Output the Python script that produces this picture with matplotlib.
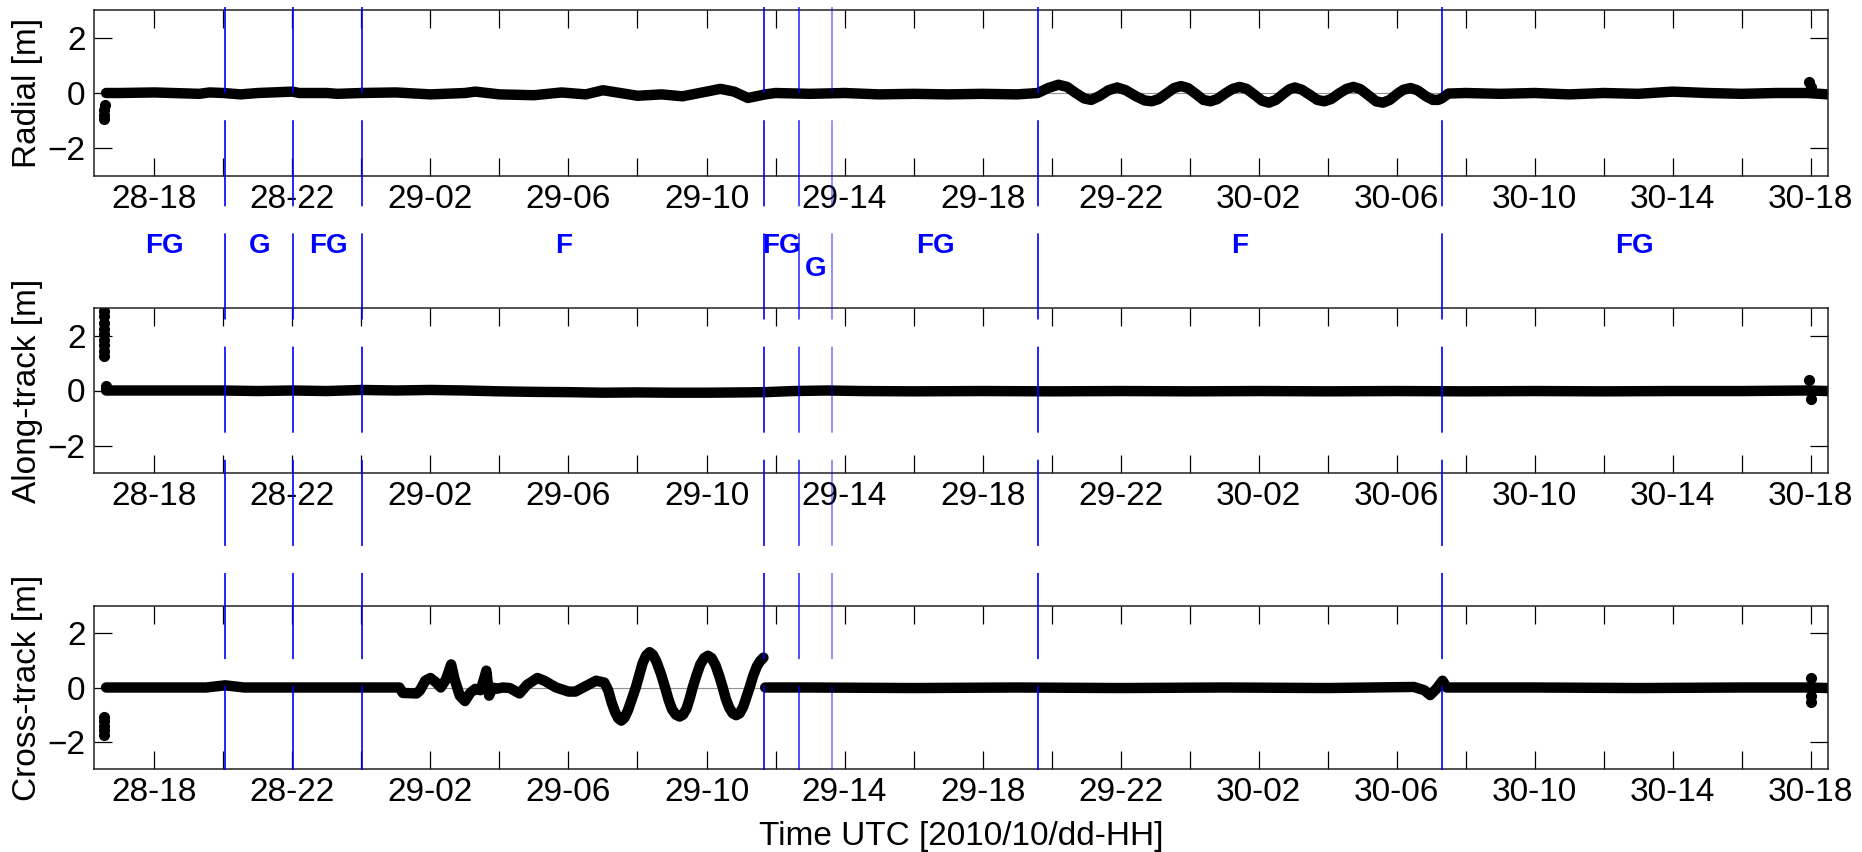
import numpy as np
import matplotlib
matplotlib.use("Agg")
import matplotlib.pyplot as plt
from matplotlib.lines import Line2D
from matplotlib.transforms import blended_transform_factory

plt.rcParams['font.family'] = ['Liberation Sans', 'DejaVu Sans']
plt.rcParams['lines.scale_dashes'] = False

# ---------------- data (hours since 2010-10-28 00:00 UTC) ----------------
radial_t = [16.6, 17.0, 18.0, 19.3, 19.6, 20.0, 20.5, 21.0, 22.0, 22.2, 23.0, 23.3, 24.0,
            25.0, 26.0, 27.0, 27.3, 28.0, 29.0, 29.8, 30.5, 31.0, 31.5, 32.0, 32.7, 33.3,
            34.0, 34.4, 34.8, 35.2, 35.7, 36.0, 37.0, 38.0, 39.0, 40.0, 41.0, 42.0, 43.0,
            43.6, 43.9, 44.2, 44.45, 44.7, 44.95, 45.15, 45.4, 45.65, 45.9, 46.15, 46.45,
            46.7, 46.9, 47.1, 47.35, 47.55, 47.75, 47.95, 48.2, 48.4, 48.6, 48.8, 49.05,
            49.25, 49.45, 49.65, 49.9, 50.1, 50.3, 50.5, 50.75, 50.9, 51.05, 51.25, 51.5,
            51.7, 51.9, 52.1, 52.35, 52.55, 52.75, 52.95, 53.2, 53.4, 53.6, 53.8, 54.05,
            54.2, 54.4, 54.6, 54.85, 55.05, 55.2, 55.3, 55.5, 56.0, 57.0, 58.0, 59.0, 60.0,
            61.0, 62.0, 63.0, 64.0, 65.0, 65.9, 66.5]
radial_v = [0.0, 0.0, 0.02, -0.03, 0.02, 0.0, -0.05, 0.0, 0.05, 0.0, 0.0, -0.03, 0.0,
            0.02, -0.05, 0.0, 0.05, -0.05, -0.08, 0.02, -0.05, 0.1, 0.0, -0.1, -0.05, -0.12,
            0.05, 0.15, 0.05, -0.18, -0.05, 0.0, -0.03, 0.0, -0.05, -0.03, -0.05, -0.03, -0.05,
            0.0, 0.18, 0.3, 0.22, 0.0, -0.2, -0.25, -0.1, 0.1, 0.2, 0.1, -0.12,
            -0.27, -0.3, -0.22, 0.0, 0.18, 0.25, 0.18, -0.05, -0.25, -0.3, -0.22, 0.0,
            0.15, 0.22, 0.15, -0.08, -0.28, -0.35, -0.25, 0.0, 0.14, 0.2, 0.12, -0.08,
            -0.25, -0.3, -0.22, 0.0, 0.15, 0.22, 0.14, -0.1, -0.3, -0.35, -0.25, 0.0,
            0.12, 0.18, 0.1, -0.12, -0.25, -0.25, -0.2, -0.02, 0.0, -0.03, 0.0, -0.05, 0.0,
            -0.03, 0.05, 0.0, -0.03, 0.0, 0.0, -0.05]
radial_out_t = [16.55, 16.55, 16.55, 16.57, 65.95, 66.0]
radial_out_v = [-0.95, -0.8, -0.62, -0.45, 0.4, 0.2]

along_t = [16.6, 17.0, 18.0, 19.0, 20.0, 21.0, 22.0, 23.0, 24.0, 25.0, 26.0, 27.0, 28.0,
           29.0, 30.0, 31.0, 32.0, 33.0, 34.0, 35.0, 35.7, 36.5, 37.5, 38.5, 40.0, 42.0,
           44.0, 46.0, 48.0, 50.0, 52.0, 54.0, 56.0, 58.0, 60.0, 62.0, 64.0, 65.9, 66.5]
along_v = [0.0, 0.0, 0.0, 0.0, 0.0, -0.02, 0.0, -0.02, 0.02, 0.0, 0.02, 0.0, -0.03,
           -0.05, -0.06, -0.08, -0.07, -0.08, -0.08, -0.07, -0.06, -0.02, 0.0, -0.02, -0.03,
           -0.02, -0.03, -0.02, -0.03, -0.02, -0.03, -0.02, -0.03, -0.02, -0.03, -0.02, -0.02,
           0.0, -0.02]
along_out_t = [16.55, 16.55, 16.55, 16.55, 16.55, 16.55, 16.55, 16.55, 16.55, 16.6, 65.95, 66.0]
along_out_v = [2.9, 2.7, 2.45, 2.25, 2.05, 1.85, 1.65, 1.45, 1.25, 0.15, 0.4, -0.3]

cross_t = [16.6, 18.0, 19.5, 20.05, 20.6, 22.0, 23.0, 24.0, 25.1, 25.2, 25.6, 25.7, 25.85,
           26.0, 26.15, 26.3, 26.45, 26.6, 26.7, 26.85, 27.0, 27.15, 27.3, 27.45, 27.55,
           27.62, 27.7, 27.8, 27.9, 28.1, 28.3, 28.58, 28.8, 29.1, 29.3, 29.64, 30.0, 30.2,
           30.5, 30.8, 31.04, 31.15, 31.25, 31.35, 31.44, 31.53, 31.62, 31.72, 31.83, 31.95,
           32.05, 32.15, 32.25, 32.35, 32.45, 32.55, 32.68, 32.8, 32.9, 33.0, 33.11, 33.22,
           33.32, 33.42, 33.51, 33.6, 33.71, 33.82, 33.93, 34.04, 34.15, 34.26, 34.37, 34.47,
           34.56, 34.66, 34.76, 34.86, 34.96, 35.06, 35.15, 35.25, 35.35, 35.46, 35.56, 35.65,
           35.67,
           35.7, 37.0, 40.0, 43.0, 46.0, 49.0, 52.0, 54.5, 54.8, 54.97, 55.15, 55.33,
           55.45, 58.0, 61.0, 64.0, 65.9, 66.5]
cross_v = [0.0, 0.0, 0.0, 0.08, 0.0, 0.0, 0.0, 0.0, 0.0, -0.2, -0.22, -0.1, 0.25,
           0.35, 0.2, 0.0, 0.3, 0.85, 0.3, -0.3, -0.5, -0.2, -0.05, -0.1, 0.3,
           0.62, -0.3, 0.0, -0.05, 0.0, -0.02, -0.22, 0.1, 0.35, 0.25, 0.0, -0.15, -0.15,
           0.05, 0.25, 0.18, -0.1, -0.55, -0.9, -1.13, -1.22, -1.12, -0.85, -0.45, 0.0,
           0.45, 0.9, 1.18, 1.3, 1.2, 0.95, 0.5, 0.0, -0.45, -0.8, -1.0, -1.07,
           -1.0, -0.78, -0.42, 0.0, 0.45, 0.85, 1.08, 1.17, 1.08, 0.82, 0.42, 0.0,
           -0.42, -0.75, -0.95, -1.02, -0.95, -0.72, -0.38, 0.0, 0.42, 0.78, 0.98, 1.1,
           np.nan,
           0.0, 0.0, -0.02, 0.0, -0.02, 0.0, -0.02, 0.02, -0.1, -0.28, -0.05, 0.25,
           0.0, 0.0, -0.02, 0.0, 0.0, -0.02]
cross_out_t = [16.55, 16.55, 16.55, 16.55, 16.55, 66.0, 66.0, 66.0]
cross_out_v = [-1.1, -1.25, -1.4, -1.55, -1.75, 0.35, -0.3, -0.55]

# mode switches (event times) and mode labels
switch_t = [20.05, 22.03, 24.03, 35.68, 36.67, 37.65, 43.6, 55.3]
switch_alpha = [1, 1, 1, 1, 0.8, 0.5, 1, 1]
segment_edges = [16.55, 20.05, 22.03, 24.03, 35.68, 36.67, 37.65, 43.6, 55.3, 66.5]
segment_labels = ['FG', 'G', 'FG', 'F', 'FG', 'G', 'FG', 'F', 'FG']
segment_low = [False, False, False, False, False, True, False, False, False]

xtick_pos = list(range(18, 67, 2))
xtick_lab_pos = [18, 22, 26, 30, 34, 38, 42, 46, 50, 54, 58, 62, 66]
xtick_labels = ['28-18', '28-22', '29-02', '29-06', '29-10', '29-14', '29-18',
                '29-22', '30-02', '30-06', '30-10', '30-14', '30-18']
ylabels = ['Radial [m]', 'Along-track [m]', 'Cross-track [m]']

# ---------------- figure ----------------
W, H = 1862, 852
fig = plt.figure(figsize=(W / 100, H / 100), dpi=100)
panel_px = [(10, 176), (308, 473), (606, 769)]
left_px, right_px = 94, 1828

series = [(radial_t, radial_v, radial_out_t, radial_out_v),
          (along_t, along_v, along_out_t, along_out_v),
          (cross_t, cross_v, cross_out_t, cross_out_v)]

axes = []
FS = 24
for i, (top, bot) in enumerate(panel_px):
    ax = fig.add_axes([left_px / W, 1 - bot / H, (right_px - left_px) / W, (bot - top) / H])
    axes.append(ax)
    t, v, ot, ov = series[i]
    ax.axhline(0, color='#909090', lw=0.8, zorder=1)
    ax.plot(t, v, color='black', lw=7.5, solid_capstyle='round',
            solid_joinstyle='round', zorder=2)
    ax.plot(ot, ov, 'o', color='black', ms=7, zorder=2)
    ax.set_xlim(16.25, 66.5)
    ax.set_ylim(-3, 3)
    ax.set_yticks([-2, 0, 2])
    ax.set_xticks(xtick_pos)
    labs = [xtick_labels[xtick_lab_pos.index(p)] if p in xtick_lab_pos else '' for p in xtick_pos]
    ax.set_xticklabels(labs)
    ax.tick_params(direction='in', length=13, width=0.9, top=True, right=True,
                   labelsize=FS, pad=6, colors='black')
    for s in ax.spines.values():
        s.set_linewidth(1.1)
        s.set_color('#222222')
    c = 1 - (top + bot) / 2 / H
    fig.text(28 / W, c, ylabels[i], rotation=90, ha='center', va='center', fontsize=FS)

fig.text((left_px + right_px) / 2 / W, 1 - 836 / H, 'Time UTC [2010/10/dd-HH]',
         ha='center', va='center', fontsize=FS)

# vertical switch lines spanning the whole figure
tr = blended_transform_factory(axes[0].transData, fig.transFigure)
for xs, a in zip(switch_t, switch_alpha):
    ln = Line2D([xs, xs], [1 - 7 / H, 1 - 770 / H], transform=tr, color='blue',
                alpha=a, lw=1.2, linestyle=(0, (62, 19.5)), zorder=10)
    fig.add_artist(ln)

# mode labels
for k, lab in enumerate(segment_labels):
    xm = 0.5 * (segment_edges[k] + segment_edges[k + 1])
    yy = 1 - (269 if segment_low[k] else 246) / H
    fig.text(xm, yy, lab, transform=tr, ha='center', va='center', color='blue',
             fontsize=20, fontweight='bold')

fig.savefig('out.png', dpi=100)
